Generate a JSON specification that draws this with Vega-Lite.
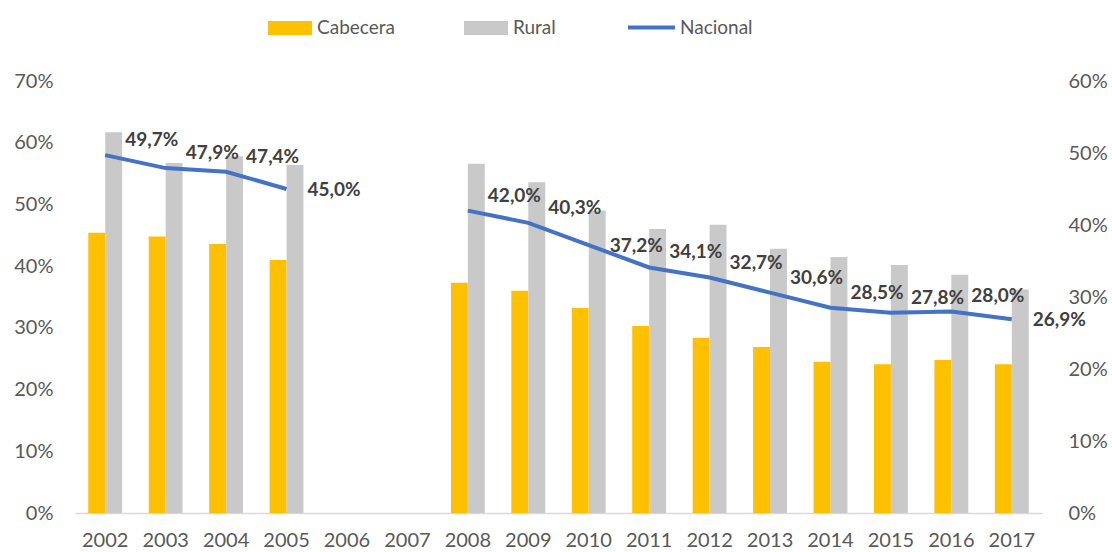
{
  "$schema": "https://vega.github.io/schema/vega-lite/v6.json",
  "width": 967,
  "height": 432,
  "autosize": "none",
  "padding": {"left": 75, "top": 81, "right": 70, "bottom": 39},
  "config": {
    "locale": {"number": {"decimal": ",", "thousands": ".", "grouping": [3], "currency": ["", " €"]}},
    "font": "Lato",
    "view": {"stroke": null},
    "axis": {"grid": false, "ticks": false, "labelFont": "Lato", "labelFontSize": 20, "labelColor": "#595959", "labelOverlap": false},
    "legend": {"labelFont": "Lato", "labelFontSize": 19, "labelColor": "#595959"}
  },
  "data": {"values": [
    {"year": "2002", "Cabecera": 0.454, "Rural": 0.617, "Nacional": 0.497},
    {"year": "2003", "Cabecera": 0.448, "Rural": 0.567, "Nacional": 0.479},
    {"year": "2004", "Cabecera": 0.436, "Rural": 0.578, "Nacional": 0.474},
    {"year": "2005", "Cabecera": 0.410, "Rural": 0.564, "Nacional": 0.450},
    {"year": "2006", "Cabecera": null, "Rural": null, "Nacional": null},
    {"year": "2007", "Cabecera": null, "Rural": null, "Nacional": null},
    {"year": "2008", "Cabecera": 0.373, "Rural": 0.566, "Nacional": 0.420},
    {"year": "2009", "Cabecera": 0.360, "Rural": 0.536, "Nacional": 0.403},
    {"year": "2010", "Cabecera": 0.332, "Rural": 0.490, "Nacional": 0.372},
    {"year": "2011", "Cabecera": 0.303, "Rural": 0.460, "Nacional": 0.341},
    {"year": "2012", "Cabecera": 0.284, "Rural": 0.467, "Nacional": 0.327},
    {"year": "2013", "Cabecera": 0.269, "Rural": 0.428, "Nacional": 0.306},
    {"year": "2014", "Cabecera": 0.245, "Rural": 0.415, "Nacional": 0.285},
    {"year": "2015", "Cabecera": 0.241, "Rural": 0.402, "Nacional": 0.278},
    {"year": "2016", "Cabecera": 0.248, "Rural": 0.386, "Nacional": 0.280},
    {"year": "2017", "Cabecera": 0.241, "Rural": 0.362, "Nacional": 0.269}
  ]},
  "encoding": {
    "x": {
      "field": "year", "type": "ordinal",
      "scale": {"paddingInner": 0.44, "paddingOuter": 0.22},
      "axis": {"title": null, "labelAngle": 0, "labelPadding": 17, "domainColor": "#D9D9D9", "domainWidth": 1.5}
    }
  },
  "layer": [
    {
      "transform": [{"fold": ["Cabecera", "Rural"], "as": ["serie", "valor"]}],
      "mark": {"type": "bar"},
      "encoding": {
        "xOffset": {"field": "serie", "type": "nominal", "scale": {"paddingInner": 0, "paddingOuter": 0}},
        "y": {
          "field": "valor", "type": "quantitative",
          "scale": {"domain": [0, 0.7]},
          "axis": {"title": null, "format": ".0%", "values": [0, 0.1, 0.2, 0.3, 0.4, 0.5, 0.6, 0.7], "domain": false, "labelPadding": 22, "orient": "left"}
        },
        "fill": {
          "field": "serie", "type": "nominal",
          "scale": {"domain": ["Cabecera", "Rural"], "range": ["#FFC000", "#C9C9C9"]},
          "legend": {
            "title": null, "orient": "none", "legendX": 193, "legendY": -75,
            "direction": "horizontal", "columns": 2, "columnPadding": 69,
            "symbolType": "M-1,-0.318H1V0.318H-1Z", "symbolSize": 1936, "symbolStrokeWidth": 0,
            "labelOffset": 5
          }
        }
      }
    },
    {
      "encoding": {
        "y": {
          "field": "Nacional", "type": "quantitative",
          "scale": {"domain": [0, 0.6]},
          "axis": {"title": null, "format": ".0%", "values": [0, 0.1, 0.2, 0.3, 0.4, 0.5, 0.6], "domain": false, "labelPadding": 26, "orient": "right", "labelAlign": "left"}
        }
      },
      "layer": [
        {
          "mark": {"type": "line", "strokeWidth": 4, "invalid": "break-paths-show-domains"},
          "encoding": {
            "stroke": {
              "datum": "Nacional",
              "scale": {"domain": ["Nacional"], "range": ["#4472C4"]},
              "legend": {
                "title": null, "orient": "none", "legendX": 551, "legendY": -79,
                "symbolType": "stroke", "symbolSize": 2209, "symbolStrokeWidth": 4,
                "labelOffset": 3
              }
            }
          }
        },
        {
          "transform": [{"filter": "isValid(datum.Nacional) && datum.year != '2005' && datum.year != '2010' && datum.year != '2017'"}],
          "mark": {"type": "text", "fontWeight": "bold", "fontSize": 19, "color": "#404040", "align": "left", "dx": 20, "dy": -15, "font": "Lato"},
          "encoding": {
            "text": {"field": "Nacional", "type": "quantitative", "format": ".1%"}
          }
        },
        {
          "transform": [{"filter": "datum.year == '2005' || datum.year == '2010' || datum.year == '2017'"}],
          "mark": {"type": "text", "fontWeight": "bold", "fontSize": 19, "color": "#404040", "align": "left", "dx": 21, "dy": 1, "font": "Lato"},
          "encoding": {
            "text": {"field": "Nacional", "type": "quantitative", "format": ".1%"}
          }
        }
      ]
    }
  ],
  "resolve": {"scale": {"y": "independent"}}
}
